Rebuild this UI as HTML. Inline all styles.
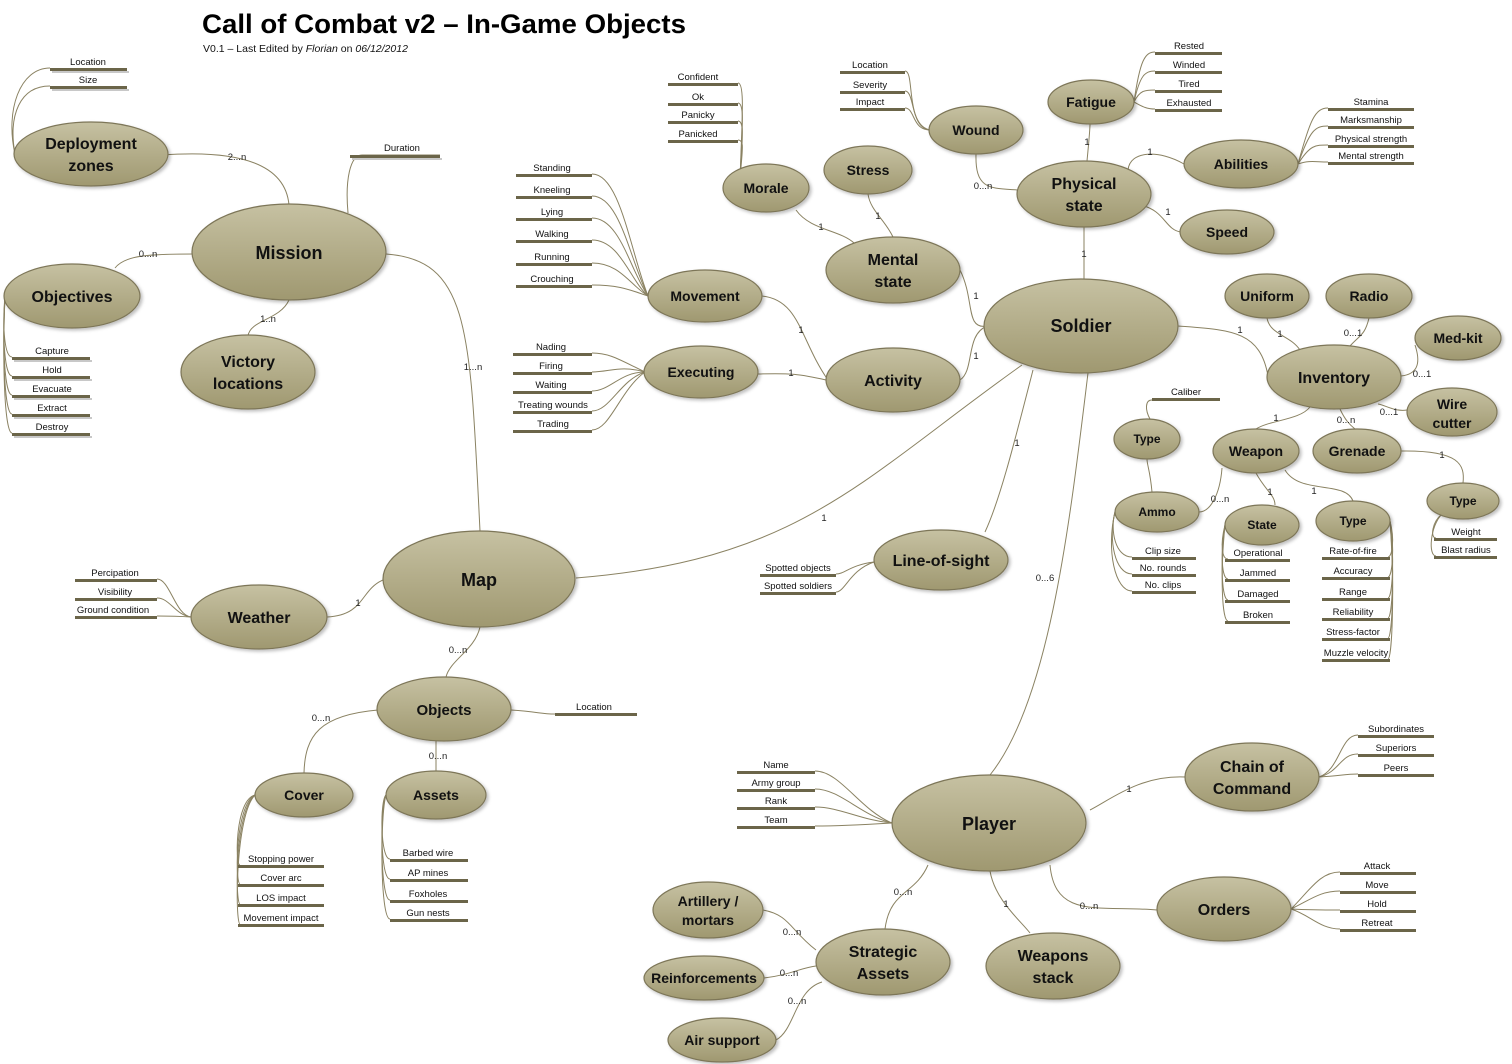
<!DOCTYPE html>
<html><head><meta charset="utf-8"><style>
html,body{margin:0;padding:0;background:#fff}
svg{display:block}
.n{fill:url(#g);stroke:#7d7658;stroke-width:1.2;filter:url(#sh)}
.t{font-family:"Liberation Sans",sans-serif;font-weight:bold;fill:#111;text-anchor:middle}
.l{font-family:"Liberation Sans",sans-serif;font-size:9.5px;fill:#111;text-anchor:middle}
.e{fill:none;stroke:#8a8262;stroke-width:1}
.c{font-family:"Liberation Sans",sans-serif;font-size:9.5px;fill:#222;text-anchor:middle}
.b{fill:#6b6549}
.s{fill:#c8c8c8}
</style></head><body>
<svg width="1512" height="1064" viewBox="0 0 1512 1064" xmlns="http://www.w3.org/2000/svg">
<defs>
<linearGradient id="g" x1="0" y1="0" x2="0" y2="1"><stop offset="0" stop-color="#c6c1a2"/><stop offset="1" stop-color="#9f9870"/></linearGradient>
<filter id="sh" x="-10%" y="-10%" width="130%" height="140%"><feDropShadow dx="2" dy="2" stdDeviation="1.5" flood-color="#000" flood-opacity="0.25"/></filter>
</defs>

<text x="202" y="33" font-family="Liberation Sans,sans-serif" font-weight="bold" font-size="27" textLength="484" lengthAdjust="spacingAndGlyphs" fill="#000">Call of Combat v2 – In-Game Objects</text>
<text x="203" y="52" font-family="Liberation Sans,sans-serif" font-size="10.5" fill="#111">V0.1 – Last Edited by <tspan font-style="italic">Florian</tspan> on <tspan font-style="italic">06/12/2012</tspan></text>

<g class="e">
<path d="M162,155 C230,150 285,160 289,205"/>
<path d="M348,213 C345,180 350,155 362,155 L440,155"/>
<path d="M194,254 C150,254 125,255 115,268"/>
<path d="M289,300 C280,320 250,320 248,336"/>
<path d="M386,254 C470,260 470,330 480,531"/>
<path d="M383,580 C360,590 365,615 327,617"/>
<path d="M480,627 C475,650 450,660 446,677"/>
<path d="M378,710 C320,715 305,735 304,773"/>
<path d="M436,741 C436,760 436,765 436,771"/>
<path d="M511,710 C540,712 540,714 555,714"/>
<path d="M576,578 C800,560 860,480 1022,365"/>
<path d="M1033,370 C1015,440 1000,500 985,532"/>
<path d="M1088,373 C1070,520 1050,700 990,775"/>
<path d="M987,326 C965,330 975,300 960,270"/>
<path d="M987,326 C965,335 975,370 960,380"/>
<path d="M796,210 C810,230 840,230 854,243"/>
<path d="M868,194 C870,210 885,220 893,237"/>
<path d="M762,296 C800,300 800,340 828,380"/>
<path d="M758,374 C790,373 800,374 826,380"/>
<path d="M1084,279 L1084,227"/>
<path d="M1018,190 C990,188 975,190 976,154"/>
<path d="M1087,161 C1089,140 1090,130 1090,124"/>
<path d="M1128,170 C1130,150 1160,150 1184,164"/>
<path d="M1140,205 C1165,210 1165,230 1181,232"/>
<path d="M1178,326 C1230,330 1260,330 1268,376"/>
<path d="M1267,318 C1270,335 1290,335 1300,350"/>
<path d="M1369,318 C1365,335 1360,335 1350,346"/>
<path d="M1415,345 C1420,360 1420,374 1401,376"/>
<path d="M1407,410 C1395,412 1385,405 1378,404"/>
<path d="M1310,407 C1300,420 1270,420 1256,429"/>
<path d="M1340,409 C1345,420 1350,425 1355,429"/>
<path d="M1222,468 C1220,495 1210,512 1199,512"/>
<path d="M1256,473 C1265,490 1275,495 1275,505"/>
<path d="M1285,470 C1300,495 1345,480 1353,501"/>
<path d="M1401,451 C1460,450 1465,465 1463,483"/>
<path d="M1152,492 C1150,470 1147,465 1147,459"/>
<path d="M1150,419 C1145,410 1145,400 1152,400"/>
<path d="M1090,810 C1110,800 1140,775 1185,777"/>
<path d="M1050,865 C1055,920 1100,905 1157,910"/>
<path d="M990,871 C995,900 1020,920 1030,933"/>
<path d="M928,865 C915,895 890,890 885,929"/>
<path d="M763,910 C790,915 790,930 816,950"/>
<path d="M764,978 C790,975 800,968 816,966"/>
<path d="M776,1040 C795,1030 795,990 822,982"/>
</g>

<g class="c">
<text x="237" y="160">2...n</text><text x="148" y="257">0...n</text><text x="268" y="322">1..n</text>
<text x="473" y="370">1...n</text><text x="358" y="606">1</text><text x="458" y="653">0...n</text>
<text x="321" y="721">0...n</text><text x="438" y="759">0...n</text><text x="824" y="521">1</text>
<text x="1017" y="446">1</text><text x="1045" y="581">0...6</text><text x="976" y="299">1</text>
<text x="976" y="359">1</text><text x="821" y="230">1</text><text x="878" y="219">1</text>
<text x="801" y="333">1</text><text x="791" y="376">1</text><text x="1084" y="257">1</text>
<text x="983" y="189">0...n</text><text x="1087" y="145">1</text><text x="1150" y="155">1</text>
<text x="1168" y="215">1</text><text x="1240" y="333">1</text><text x="1280" y="337">1</text>
<text x="1353" y="336">0...1</text><text x="1422" y="377">0...1</text><text x="1389" y="415">0...1</text>
<text x="1276" y="421">1</text><text x="1346" y="423">0...n</text><text x="1220" y="502">0...n</text>
<text x="1270" y="495">1</text><text x="1314" y="494">1</text><text x="1442" y="458">1</text>
<text x="1129" y="792">1</text><text x="1089" y="909">0...n</text><text x="1006" y="907">1</text>
<text x="903" y="895">0...n</text><text x="792" y="935">0...n</text><text x="789" y="976">0...n</text>
<text x="797" y="1004">0...n</text>
</g>

<g class="e">
<path d="M15,154 C5,110 20,68 50,68"/><path d="M15,154 C8,115 20,86 50,86"/>
<path d="M5,296 C2,330 5,357 12,357"/><path d="M5,296 C2,340 5,376 12,376"/><path d="M5,296 C2,350 5,395 12,395"/><path d="M5,296 C2,360 5,414 12,414"/><path d="M5,296 C2,370 5,433 12,433"/>
<path d="M740,180 C742,120 745,83 738,83"/><path d="M740,180 C742,130 745,103 738,103"/><path d="M740,180 C742,140 745,121 738,121"/><path d="M740,180 C742,150 745,140 738,140"/>
<path d="M648,296 C630,250 620,174 592,174"/><path d="M648,296 C630,260 620,196 592,196"/><path d="M648,296 C630,270 620,218 592,218"/><path d="M648,296 C630,280 620,240 592,240"/><path d="M648,296 C630,285 620,263 592,263"/><path d="M648,296 C630,290 620,285 592,285"/>
<path d="M645,372 C620,360 610,353 592,353"/><path d="M645,372 C620,365 610,372 592,372"/><path d="M645,372 C620,372 610,391 592,391"/><path d="M645,372 C620,380 610,411 592,411"/><path d="M645,372 C620,390 610,430 592,430"/>
<path d="M930,130 C905,125 915,71 905,71"/><path d="M930,130 C910,128 915,91 905,91"/><path d="M930,130 C912,130 915,108 905,108"/>
<path d="M1134,102 C1140,60 1145,52 1155,52"/><path d="M1134,102 C1140,75 1145,71 1155,71"/><path d="M1134,102 C1140,90 1145,90 1155,90"/><path d="M1134,102 C1140,105 1145,109 1155,109"/>
<path d="M1298,164 C1310,120 1315,108 1328,108"/><path d="M1298,164 C1310,130 1315,126 1328,126"/><path d="M1298,164 C1310,145 1315,145 1328,145"/><path d="M1298,164 C1310,160 1315,162 1328,162"/>
<path d="M1115,512 C1110,530 1115,557 1132,557"/><path d="M1115,512 C1108,540 1115,574 1132,574"/><path d="M1115,512 C1106,550 1115,591 1132,591"/>
<path d="M1225,525 C1220,545 1222,559 1228,559"/><path d="M1225,525 C1220,555 1222,579 1228,579"/><path d="M1225,525 C1220,565 1222,600 1228,600"/><path d="M1225,525 C1220,575 1222,621 1228,621"/>
<path d="M1390,521 C1395,540 1392,557 1388,557"/><path d="M1390,521 C1395,550 1392,577 1388,577"/><path d="M1390,521 C1395,560 1392,598 1388,598"/><path d="M1390,521 C1395,570 1392,618 1388,618"/><path d="M1390,521 C1395,580 1392,638 1388,638"/><path d="M1390,521 C1395,590 1392,659 1388,659"/>
<path d="M1442,514 C1432,522 1430,538 1436,538"/><path d="M1442,514 C1430,526 1428,556 1436,556"/>
<path d="M191,617 C175,615 170,579 157,579"/><path d="M191,617 C175,615 170,598 157,598"/><path d="M191,617 C175,616 170,616 157,616"/>
<path d="M874,562 C850,565 845,574 836,574"/><path d="M874,562 C850,570 845,592 836,592"/>
<path d="M255,795 C235,800 235,865 240,865"/><path d="M255,795 C235,805 235,884 240,884"/><path d="M255,795 C235,810 235,904 240,904"/><path d="M255,795 C235,815 235,924 240,924"/>
<path d="M386,795 C380,800 380,859 390,859"/><path d="M386,795 C380,805 380,879 390,879"/><path d="M386,795 C380,810 380,900 390,900"/><path d="M386,795 C380,815 380,919 390,919"/>
<path d="M892,823 C860,810 840,771 815,771"/><path d="M892,823 C860,815 840,789 815,789"/><path d="M892,823 C860,820 840,807 815,807"/><path d="M892,823 C860,825 840,826 815,826"/>
<path d="M1319,777 C1340,770 1340,735 1358,735"/><path d="M1319,777 C1340,772 1340,754 1358,754"/><path d="M1319,777 C1340,776 1345,774 1358,774"/>
<path d="M1291,909 C1310,890 1320,872 1340,872"/><path d="M1291,909 C1310,900 1320,891 1340,891"/><path d="M1291,909 C1310,910 1320,910 1340,910"/><path d="M1291,909 C1310,915 1320,929 1340,929"/>
</g>

<g>
<g class="s"><rect x="52" y="71" width="77" height="2"/><rect x="52" y="89" width="77" height="2"/><rect x="352" y="158" width="90" height="2"/>
<rect x="14" y="360" width="78" height="2"/><rect x="14" y="379" width="78" height="2"/><rect x="14" y="398" width="78" height="2"/><rect x="14" y="417" width="78" height="2"/><rect x="14" y="436" width="78" height="2"/></g>
<g class="b">
<rect x="50" y="68" width="77" height="3"/><rect x="50" y="86" width="77" height="3"/>
<rect x="350" y="155" width="90" height="3"/>
<rect x="12" y="357" width="78" height="3"/><rect x="12" y="376" width="78" height="3"/><rect x="12" y="395" width="78" height="3"/><rect x="12" y="414" width="78" height="3"/><rect x="12" y="433" width="78" height="3"/>
<rect x="668" y="83" width="70" height="3"/><rect x="668" y="103" width="70" height="3"/><rect x="668" y="121" width="70" height="3"/><rect x="668" y="140" width="70" height="3"/>
<rect x="516" y="174" width="76" height="3"/><rect x="516" y="196" width="76" height="3"/><rect x="516" y="218" width="76" height="3"/><rect x="516" y="240" width="76" height="3"/><rect x="516" y="263" width="76" height="3"/><rect x="516" y="285" width="76" height="3"/>
<rect x="513" y="353" width="79" height="3"/><rect x="513" y="372" width="79" height="3"/><rect x="513" y="391" width="79" height="3"/><rect x="513" y="411" width="79" height="3"/><rect x="513" y="430" width="79" height="3"/>
<rect x="840" y="71" width="65" height="3"/><rect x="840" y="91" width="65" height="3"/><rect x="840" y="108" width="65" height="3"/>
<rect x="1155" y="52" width="67" height="3"/><rect x="1155" y="71" width="67" height="3"/><rect x="1155" y="90" width="67" height="3"/><rect x="1155" y="109" width="67" height="3"/>
<rect x="1328" y="108" width="86" height="3"/><rect x="1328" y="126" width="86" height="3"/><rect x="1328" y="145" width="86" height="3"/><rect x="1328" y="162" width="86" height="3"/>
<rect x="1152" y="398" width="68" height="3"/>
<rect x="1132" y="557" width="64" height="3"/><rect x="1132" y="574" width="64" height="3"/><rect x="1132" y="591" width="64" height="3"/>
<rect x="1225" y="559" width="65" height="3"/><rect x="1225" y="579" width="65" height="3"/><rect x="1225" y="600" width="65" height="3"/><rect x="1225" y="621" width="65" height="3"/>
<rect x="1322" y="557" width="68" height="3"/><rect x="1322" y="577" width="68" height="3"/><rect x="1322" y="598" width="68" height="3"/><rect x="1322" y="618" width="68" height="3"/><rect x="1322" y="638" width="68" height="3"/><rect x="1322" y="659" width="68" height="3"/>
<rect x="1434" y="538" width="63" height="3"/><rect x="1434" y="556" width="63" height="3"/>
<rect x="75" y="579" width="82" height="3"/><rect x="75" y="598" width="82" height="3"/><rect x="75" y="616" width="82" height="3"/>
<rect x="760" y="574" width="76" height="3"/><rect x="760" y="592" width="76" height="3"/>
<rect x="555" y="713" width="82" height="3"/>
<rect x="238" y="865" width="86" height="3"/><rect x="238" y="884" width="86" height="3"/><rect x="238" y="904" width="86" height="3"/><rect x="238" y="924" width="86" height="3"/>
<rect x="390" y="859" width="78" height="3"/><rect x="390" y="879" width="78" height="3"/><rect x="390" y="900" width="78" height="3"/><rect x="390" y="919" width="78" height="3"/>
<rect x="737" y="771" width="78" height="3"/><rect x="737" y="789" width="78" height="3"/><rect x="737" y="807" width="78" height="3"/><rect x="737" y="826" width="78" height="3"/>
<rect x="1358" y="735" width="76" height="3"/><rect x="1358" y="754" width="76" height="3"/><rect x="1358" y="774" width="76" height="3"/>
<rect x="1340" y="872" width="76" height="3"/><rect x="1340" y="891" width="76" height="3"/><rect x="1340" y="910" width="76" height="3"/><rect x="1340" y="929" width="76" height="3"/>
</g>
</g>

<g class="l">
<text x="88" y="65">Location</text><text x="88" y="83">Size</text><text x="402" y="151">Duration</text>
<text x="52" y="354">Capture</text><text x="52" y="373">Hold</text><text x="52" y="392">Evacuate</text><text x="52" y="411">Extract</text><text x="52" y="430">Destroy</text>
<text x="698" y="80">Confident</text><text x="698" y="100">Ok</text><text x="698" y="118">Panicky</text><text x="698" y="137">Panicked</text>
<text x="552" y="171">Standing</text><text x="552" y="193">Kneeling</text><text x="552" y="215">Lying</text><text x="552" y="237">Walking</text><text x="552" y="260">Running</text><text x="552" y="282">Crouching</text>
<text x="551" y="350">Nading</text><text x="551" y="369">Firing</text><text x="551" y="388">Waiting</text><text x="553" y="408">Treating wounds</text><text x="553" y="427">Trading</text>
<text x="870" y="68">Location</text><text x="870" y="88">Severity</text><text x="870" y="105">Impact</text>
<text x="1189" y="49">Rested</text><text x="1189" y="68">Winded</text><text x="1189" y="87">Tired</text><text x="1189" y="106">Exhausted</text>
<text x="1371" y="105">Stamina</text><text x="1371" y="123">Marksmanship</text><text x="1371" y="142">Physical strength</text><text x="1371" y="159">Mental strength</text>
<text x="1186" y="395">Caliber</text>
<text x="1163" y="554">Clip size</text><text x="1163" y="571">No. rounds</text><text x="1163" y="588">No. clips</text>
<text x="1258" y="556">Operational</text><text x="1258" y="576">Jammed</text><text x="1258" y="597">Damaged</text><text x="1258" y="618">Broken</text>
<text x="1353" y="554">Rate-of-fire</text><text x="1353" y="574">Accuracy</text><text x="1353" y="595">Range</text><text x="1353" y="615">Reliability</text><text x="1353" y="635">Stress-factor</text><text x="1356" y="656">Muzzle velocity</text>
<text x="1466" y="535">Weight</text><text x="1466" y="553">Blast radius</text>
<text x="115" y="576">Percipation</text><text x="115" y="595">Visibility</text><text x="113" y="613">Ground condition</text>
<text x="798" y="571">Spotted objects</text><text x="798" y="589">Spotted soldiers</text>
<text x="594" y="710">Location</text>
<text x="281" y="862">Stopping power</text><text x="281" y="881">Cover arc</text><text x="281" y="901">LOS impact</text><text x="281" y="921">Movement impact</text>
<text x="428" y="856">Barbed wire</text><text x="428" y="876">AP mines</text><text x="428" y="897">Foxholes</text><text x="428" y="916">Gun nests</text>
<text x="776" y="768">Name</text><text x="776" y="786">Army group</text><text x="776" y="804">Rank</text><text x="776" y="823">Team</text>
<text x="1396" y="732">Subordinates</text><text x="1396" y="751">Superiors</text><text x="1396" y="771">Peers</text>
<text x="1377" y="869">Attack</text><text x="1377" y="888">Move</text><text x="1377" y="907">Hold</text><text x="1377" y="926">Retreat</text>
</g>

<g>
<ellipse class="n" cx="91" cy="154" rx="77" ry="32"/>
<ellipse class="n" cx="289" cy="252" rx="97" ry="48"/>
<ellipse class="n" cx="72" cy="296" rx="68" ry="32"/>
<ellipse class="n" cx="248" cy="372" rx="67" ry="37"/>
<ellipse class="n" cx="479" cy="579" rx="96" ry="48"/>
<ellipse class="n" cx="259" cy="617" rx="68" ry="32"/>
<ellipse class="n" cx="444" cy="709" rx="67" ry="32"/>
<ellipse class="n" cx="304" cy="795" rx="49" ry="22"/>
<ellipse class="n" cx="436" cy="795" rx="50" ry="24"/>
<ellipse class="n" cx="766" cy="188" rx="43" ry="24"/>
<ellipse class="n" cx="868" cy="170" rx="44" ry="24"/>
<ellipse class="n" cx="893" cy="270" rx="67" ry="33"/>
<ellipse class="n" cx="705" cy="296" rx="57" ry="26"/>
<ellipse class="n" cx="701" cy="372" rx="57" ry="26"/>
<ellipse class="n" cx="893" cy="380" rx="67" ry="32"/>
<ellipse class="n" cx="976" cy="130" rx="47" ry="24"/>
<ellipse class="n" cx="1091" cy="102" rx="43" ry="22"/>
<ellipse class="n" cx="1084" cy="194" rx="67" ry="33"/>
<ellipse class="n" cx="1241" cy="164" rx="57" ry="24"/>
<ellipse class="n" cx="1227" cy="232" rx="47" ry="22"/>
<ellipse class="n" cx="1081" cy="326" rx="97" ry="47"/>
<ellipse class="n" cx="1267" cy="296" rx="42" ry="22"/>
<ellipse class="n" cx="1369" cy="296" rx="43" ry="22"/>
<ellipse class="n" cx="1458" cy="338" rx="43" ry="22"/>
<ellipse class="n" cx="1334" cy="377" rx="67" ry="32"/>
<ellipse class="n" cx="1452" cy="412" rx="45" ry="24"/>
<ellipse class="n" cx="1147" cy="439" rx="33" ry="20"/>
<ellipse class="n" cx="1256" cy="451" rx="43" ry="22"/>
<ellipse class="n" cx="1357" cy="451" rx="44" ry="22"/>
<ellipse class="n" cx="1157" cy="512" rx="42" ry="20"/>
<ellipse class="n" cx="1262" cy="525" rx="37" ry="20"/>
<ellipse class="n" cx="1353" cy="521" rx="37" ry="20"/>
<ellipse class="n" cx="1463" cy="501" rx="36" ry="18"/>
<ellipse class="n" cx="941" cy="560" rx="67" ry="30"/>
<ellipse class="n" cx="989" cy="823" rx="97" ry="48"/>
<ellipse class="n" cx="1252" cy="777" rx="67" ry="34"/>
<ellipse class="n" cx="1224" cy="909" rx="67" ry="32"/>
<ellipse class="n" cx="1053" cy="966" rx="67" ry="33"/>
<ellipse class="n" cx="883" cy="962" rx="67" ry="33"/>
<ellipse class="n" cx="708" cy="910" rx="55" ry="28"/>
<ellipse class="n" cx="704" cy="978" rx="60" ry="22"/>
<ellipse class="n" cx="722" cy="1040" rx="54" ry="22"/>
</g>

<g class="t">
<text x="91" y="149" font-size="16">Deployment</text><text x="91" y="171" font-size="16">zones</text>
<text x="289" y="259" font-size="18">Mission</text>
<text x="72" y="302" font-size="16">Objectives</text>
<text x="248" y="367" font-size="16">Victory</text><text x="248" y="389" font-size="16">locations</text>
<text x="479" y="586" font-size="18">Map</text>
<text x="259" y="623" font-size="16">Weather</text>
<text x="444" y="715" font-size="15">Objects</text>
<text x="304" y="800" font-size="14">Cover</text>
<text x="436" y="800" font-size="14">Assets</text>
<text x="766" y="193" font-size="14">Morale</text>
<text x="868" y="175" font-size="14">Stress</text>
<text x="893" y="265" font-size="16">Mental</text><text x="893" y="287" font-size="16">state</text>
<text x="705" y="301" font-size="14">Movement</text>
<text x="701" y="377" font-size="14">Executing</text>
<text x="893" y="386" font-size="16">Activity</text>
<text x="976" y="135" font-size="14">Wound</text>
<text x="1091" y="107" font-size="14">Fatigue</text>
<text x="1084" y="189" font-size="16">Physical</text><text x="1084" y="211" font-size="16">state</text>
<text x="1241" y="169" font-size="14">Abilities</text>
<text x="1227" y="237" font-size="14">Speed</text>
<text x="1081" y="332" font-size="18">Soldier</text>
<text x="1267" y="301" font-size="14">Uniform</text>
<text x="1369" y="301" font-size="14">Radio</text>
<text x="1458" y="343" font-size="14">Med-kit</text>
<text x="1334" y="383" font-size="16">Inventory</text>
<text x="1452" y="409" font-size="14">Wire</text><text x="1452" y="428" font-size="14">cutter</text>
<text x="1147" y="443" font-size="12">Type</text>
<text x="1256" y="456" font-size="14">Weapon</text>
<text x="1357" y="456" font-size="14">Grenade</text>
<text x="1157" y="516" font-size="12">Ammo</text>
<text x="1262" y="529" font-size="12">State</text>
<text x="1353" y="525" font-size="12">Type</text>
<text x="1463" y="505" font-size="12">Type</text>
<text x="941" y="566" font-size="16">Line-of-sight</text>
<text x="989" y="830" font-size="18">Player</text>
<text x="1252" y="772" font-size="16">Chain of</text><text x="1252" y="794" font-size="16">Command</text>
<text x="1224" y="915" font-size="16">Orders</text>
<text x="1053" y="961" font-size="16">Weapons</text><text x="1053" y="983" font-size="16">stack</text>
<text x="883" y="957" font-size="16">Strategic</text><text x="883" y="979" font-size="16">Assets</text>
<text x="708" y="906" font-size="14">Artillery /</text><text x="708" y="925" font-size="14">mortars</text>
<text x="704" y="983" font-size="14">Reinforcements</text>
<text x="722" y="1045" font-size="14">Air support</text>
</g>
</svg>
</body></html>
